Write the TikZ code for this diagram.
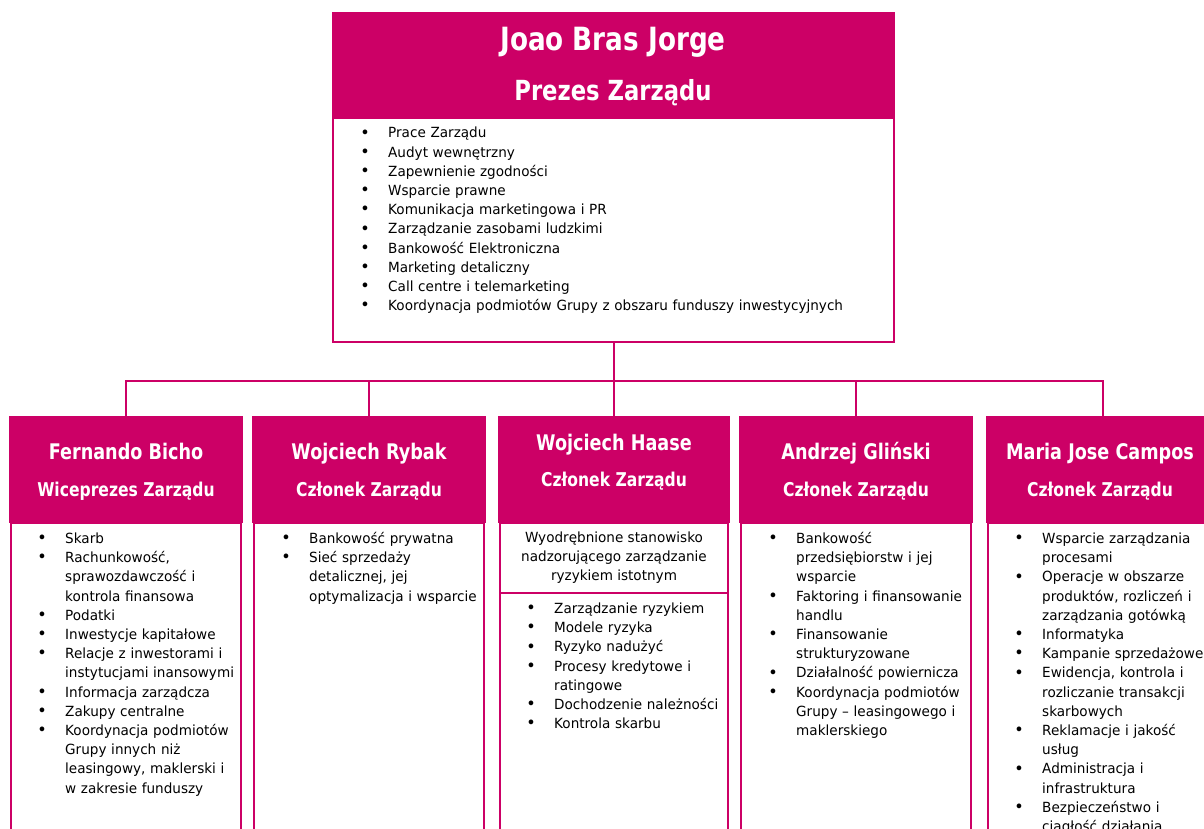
\documentclass[tikz,border=0pt]{standalone}
\usepackage{fontspec}
\setmainfont{DejaVu Sans}[FakeStretch=0.97]
\newfontfamily\hdfont{DejaVu Sans}[FakeStretch=0.82]
\definecolor{mag}{RGB}{204,0,102}
\newcommand\bigbul{\raisebox{-0.2pt}{\fontsize{16.5}{17}\selectfont\textbullet}}
\newenvironment{blst}{\begin{list}{\bigbul}{\setlength\leftmargin{56pt}\setlength\labelwidth{14pt}\setlength\labelsep{18.4pt}\setlength\itemsep{0pt}\setlength\parsep{0pt}\setlength\topsep{0pt}\setlength\partopsep{0pt}\setlength\itemindent{0pt}}}{\end{list}}
\tikzset{
  hdr/.style={fill=mag, draw=none, inner sep=0pt, outer sep=0pt, anchor=north west},
  bodybox/.style={draw=mag, line width=2pt, fill=white, inner sep=0pt, outer sep=0pt, anchor=north west},
  nm/.style={text=white, font=\hdfont\bfseries\fontsize{21.5}{24}\selectfont, inner sep=0pt, anchor=base},
  ttl/.style={text=white, font=\hdfont\bfseries\fontsize{19}{22}\selectfont, inner sep=0pt, anchor=base},
  lst/.style={inner sep=0pt, anchor=north west, text width=560pt, align=left, font=\fontsize{14}{19.2}\selectfont},
  conn/.style={draw=mag, line width=2pt},
}
\begin{document}
\begin{tikzpicture}[x=1pt,y=-1pt]
\useasboundingbox (0,0) rectangle (1204,829);
\clip (0,0) rectangle (1204,829);
\fill[white] (0,0) rectangle (1204,829);
% top box
\node[hdr, minimum width=563pt, minimum height=106pt] (th) at (332,12) {};
\node[bodybox, minimum width=561pt, minimum height=224pt] (tb) at (333,118) {};
\node[nm, font=\hdfont\bfseries\fontsize{32}{36}\selectfont] (tn) at (613,51) {Joao Bras Jorge};
\node[ttl, font=\hdfont\bfseries\fontsize{27.7}{30}\selectfont] (tt) at (613,101) {Prezes Zarządu};
\node[lst] (tl) at (332,118.6) {\begin{blst}
\item \strut Prace Zarządu
\item Audyt wewnętrzny
\item Zapewnienie zgodności
\item Wsparcie prawne
\item Komunikacja marketingowa i PR
\item Zarządzanie zasobami ludzkimi
\item Bankowość Elektroniczna
\item Marketing detaliczny
\item Call centre i telemarketing
\item Koordynacja podmiotów Grupy z obszaru funduszy inwestycyjnych
\end{blst}};
% bottom headers
\node[hdr, minimum width=234pt, minimum height=107pt] (h1) at (9,416) {};
\node[hdr, minimum width=234pt, minimum height=107pt] (h2) at (252,416) {};
\node[hdr, minimum width=232pt, minimum height=107pt] (h3) at (498,416) {};
\node[hdr, minimum width=234pt, minimum height=107pt] (h4) at (739,416) {};
\node[hdr, minimum width=234pt, minimum height=107pt] (h5) at (986,416) {};
% bodies
\node[bodybox, minimum width=230pt, minimum height=330pt] (b1) at (11,523) {};
\node[bodybox, minimum width=230pt, minimum height=330pt] (b2) at (254,523) {};
\node[bodybox, minimum width=228pt, minimum height=70pt] (b3a) at (500,523) {};
\node[bodybox, minimum width=228pt, minimum height=260pt] (b3) at (500,593) {};
\node[bodybox, minimum width=230pt, minimum height=330pt] (b4) at (741,523) {};
\node[bodybox, minimum width=230pt, minimum height=330pt] (b5) at (988,523) {};
% connectors
\coordinate (bus) at (613,381);
\draw[conn] (tb.south) -- (tb.south |- bus);
\draw[conn] (h1.north) -- (h1.north |- bus) -- (h5.north |- bus) -- (h5.north);
\draw[conn] (h2.north) -- (h2.north |- bus);
\draw[conn] (h3.north) -- (h3.north |- bus);
\draw[conn] (h4.north) -- (h4.north |- bus);
% header texts
\node[nm] (n1) at (126,459) {Fernando Bicho};
\node[ttl] (t1) at (126,496) {Wiceprezes Zarządu};
\node[nm] (n2) at (369,459) {Wojciech Rybak};
\node[ttl] (t2) at (369,496) {Członek Zarządu};
\node[nm] (n3) at (614,450) {Wojciech Haase};
\node[ttl] (t3) at (614,486) {Członek Zarządu};
\node[nm] (n4) at (856,459) {Andrzej Gliński};
\node[ttl] (t4) at (856,496) {Członek Zarządu};
\node[nm] (n5) at (1100,459) {Maria Jose Campos};
\node[ttl] (t5) at (1100,496) {Członek Zarządu};
% lists
\node[lst] (l1) at (9,524) {\begin{blst}
\item \strut Skarb
\item Rachunkowość,\\ sprawozdawczość i\\ kontrola finansowa
\item Podatki
\item Inwestycje kapitałowe
\item Relacje z inwestorami i\\ instytucjami inansowymi
\item Informacja zarządcza
\item Zakupy centralne
\item Koordynacja podmiotów\\ Grupy innych niż\\ leasingowy, maklerski i\\ w zakresie funduszy
\end{blst}};
\node[lst] (l2) at (253,524) {\begin{blst}
\item \strut Bankowość prywatna
\item Sieć sprzedaży\\ detalicznej, jej\\ optymalizacja i wsparcie
\end{blst}};
\node[inner sep=0pt, anchor=north, align=center, font=\fontsize{14}{19.2}\selectfont] (s3) at (614,528.6) {\strut Wyodrębnione stanowisko\\ nadzorującego zarządzanie\\ ryzykiem istotnym};
\node[lst] (l3) at (498,594) {\begin{blst}
\item \strut Zarządzanie ryzykiem
\item Modele ryzyka
\item Ryzyko nadużyć
\item Procesy kredytowe i\\ ratingowe
\item Dochodzenie należności
\item Kontrola skarbu
\end{blst}};
\node[lst] (l4) at (740,524) {\begin{blst}
\item \strut Bankowość\\ przedsiębiorstw i jej\\ wsparcie
\item Faktoring i finansowanie\\ handlu
\item Finansowanie\\ strukturyzowane
\item Działalność powiernicza
\item Koordynacja podmiotów\\ Grupy – leasingowego i\\ maklerskiego
\end{blst}};
\node[lst] (l5) at (986,524) {\begin{blst}
\item \strut Wsparcie zarządzania\\ procesami
\item Operacje w obszarze\\ produktów, rozliczeń i\\ zarządzania gotówką
\item Informatyka
\item Kampanie sprzedażowe
\item Ewidencja, kontrola i\\ rozliczanie transakcji\\ skarbowych
\item Reklamacje i jakość\\ usług
\item Administracja i\\ infrastruktura
\item Bezpieczeństwo i\\ ciągłość działania
\end{blst}};
\end{tikzpicture}
\end{document}
